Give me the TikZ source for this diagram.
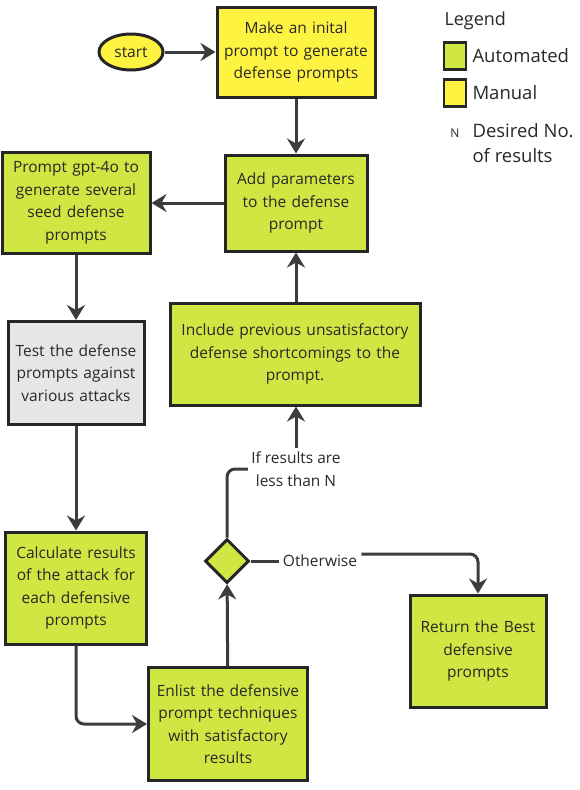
\documentclass[tikz,border=0pt]{standalone}
\usepackage{fontspec}
\setmainfont{Open Sans}
\usetikzlibrary{arrows.meta,shapes.geometric}
\definecolor{autogreen}{RGB}{208,230,66}
\definecolor{manyellow}{RGB}{255,243,66}
\definecolor{testgrey}{RGB}{230,230,230}
\definecolor{inkline}{RGB}{38,38,38}
\definecolor{inktext}{RGB}{40,40,40}
\tikzset{
  box/.style={draw=inkline, line width=3pt, align=center, inner sep=2pt,
    text=inktext, font=\fontsize{15.5}{22.5}\selectfont},
  auto/.style={box, fill=autogreen},
  manual/.style={box, fill=manyellow},
  flow/.style={-{Stealth[length=15pt,width=18pt,inset=5pt]}, line width=3pt, draw=inkline!90},
  link/.style={line width=3pt, draw=inkline!90, rounded corners=8pt},
  lbl/.style={text=inktext, align=center, font=\fontsize{15.5}{23}\selectfont},
}
\begin{document}
\begin{tikzpicture}[x=1pt,y=-1pt]
		\useasboundingbox (0,0) rectangle (580,790);
		% Création des nœuds
		\node[ellipse, draw=inkline, line width=3pt, fill=manyellow, text=inktext,
		  minimum width=64pt, minimum height=36pt, inner sep=0pt,
		  font=\fontsize{15.5}{23}\selectfont] (start) at (131,52) {start};
		\node[manual, minimum width=158pt, minimum height=90pt, text width=152pt] (make) at (296,52)
		  {Make an inital\\ prompt to generate\\ defense prompts};
		\node[auto, minimum width=142pt, minimum height=96pt, text width=136pt] (params) at (296,203)
		  {Add parameters\\ to the defense\\ prompt};
		\node[auto, minimum width=148pt, minimum height=101pt, text width=142pt] (seed) at (76,203)
		  {Prompt gpt-4o to\\ generate several\\ seed defense\\ prompts};
		\node[box, fill=testgrey, minimum width=136pt, minimum height=103pt, text width=130pt] (test) at (76,373)
		  {Test the defense\\ prompts against\\ various attacks};
		\node[auto, minimum width=141pt, minimum height=112pt, text width=135pt] (calc) at (76,588)
		  {Calculate results\\ of the attack for\\ each defensive\\ prompts};
		\node[auto, minimum width=250pt, minimum height=102pt, text width=244pt] (prev) at (295,354)
		  {Include previous unsatisfactory\\ defense shortcomings to the\\ prompt.};
		\node[diamond, draw=inkline, line width=3pt, fill=autogreen,
		  minimum width=44pt, minimum height=44pt, inner sep=0pt] (check) at (227,561) {};
		\node[auto, minimum width=159pt, minimum height=113pt, text width=153pt] (enlist) at (228,724)
		  {Enlist the defensive\\ prompt techniques\\ with satisfactory\\ results};
		\node[auto, minimum width=136pt, minimum height=112pt, text width=130pt] (best) at (478,651)
		  {Return the Best\\ defensive\\ prompts};
		\node[lbl] (less) at (296,469) {If results are\\ less than N};
		\node[lbl, inner sep=4pt] (other) at (320,561) {Otherwise};

		% Légende
		\node[anchor=west, text=inktext, font=\fontsize{18}{22}\selectfont] (leg) at (441,21) {Legend};
		\node[draw=inkline, line width=2.6pt, fill=autogreen, minimum width=22pt, minimum height=27pt, inner sep=0pt] (keyauto) at (455,56) {};
		\node[anchor=west, text=inktext, font=\fontsize{18.5}{22}\selectfont] (legauto) at (469,56) {Automated};
		\node[draw=inkline, line width=2.6pt, fill=manyellow, minimum width=22pt, minimum height=27pt, inner sep=0pt] (keyman) at (455,93) {};
		\node[anchor=west, text=inktext, font=\fontsize{18.5}{22}\selectfont] (legman) at (469,93) {Manual};
		\node[text=inktext, font=\fontsize{12}{14}\selectfont] (keyn) at (455,133) {N};
		\node[anchor=north west, align=left, text=inktext, font=\fontsize{18.5}{25}\selectfont] (legn) at (469,120)
		  {Desired No.\\ of results};

		% Flèches
		\draw[flow] (start) -- (make);
		\draw[flow] (make) -- (params);
		\draw[flow] (params) -- (seed);
		\draw[flow] (seed) -- (test);
		\draw[flow] (test) -- (calc);
		\draw[flow, rounded corners=8pt] (calc.south) |- (enlist.west);
		\draw[flow] (enlist) -- (check);
		\draw[link] (check.north) |- (less.west);
		\draw[flow] (less.north) -- (prev.south -| less.north);
		\draw[flow] (prev.north -| params.south) -- (params.south);
		\draw[link] (check.east) -- (other.west);
		\draw[flow, rounded corners=8pt] ([yshift=7pt]other.east) -| (best.north);
\end{tikzpicture}
\end{document}
